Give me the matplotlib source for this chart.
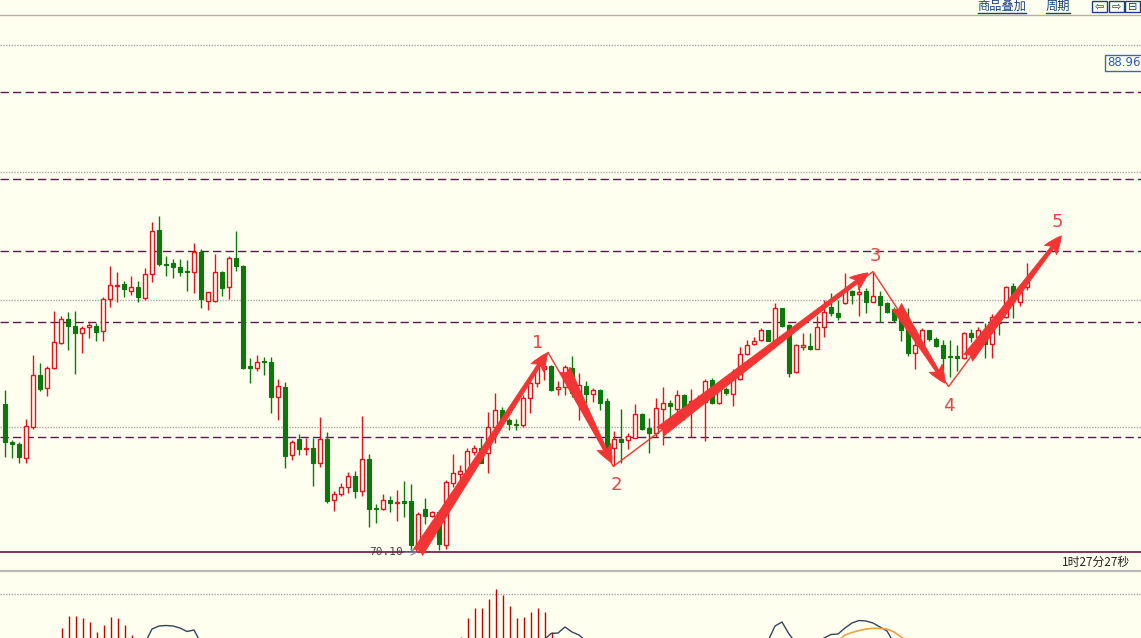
import matplotlib
matplotlib.use("Agg")
import matplotlib.pyplot as plt
from matplotlib.lines import Line2D
from matplotlib.patches import Rectangle

# ---------------- data ----------------
opens = [75.92, 74.43, 74.34, 73.79, 75.03, 77.05, 76.54, 77.32, 78.30, 79.26,
         78.99, 78.72, 78.95, 78.99, 78.77, 80.03, 80.56, 80.63, 80.36, 80.50,
         80.09, 81.01, 82.74, 81.42, 81.46, 81.29, 81.14, 81.09, 81.89, 79.97,
         79.95, 81.10, 80.50, 81.63, 81.31, 77.39, 77.32, 77.62, 77.56, 76.21,
         76.59, 73.91, 74.55, 74.16, 74.21, 73.60, 74.55, 72.16, 72.38, 72.66,
         73.10, 72.52, 73.77, 71.83, 71.81, 72.16, 72.04, 72.11, 72.12, 70.17,
         71.79, 71.51, 71.68, 70.37, 72.81, 73.17, 73.30, 74.04, 74.19, 73.99,
         75.03, 75.69, 75.30, 75.14, 75.08, 76.15, 76.73, 77.28, 77.39, 76.52,
         76.58, 77.32, 76.21, 76.63, 76.32, 76.47, 76.05, 74.19, 74.55, 74.51,
         74.60, 75.52, 74.96, 74.77, 75.74, 75.97, 75.74, 76.28, 75.73, 76.01,
         76.01, 76.86, 75.97, 76.50, 76.32, 76.89, 77.87, 78.26, 78.43, 78.80,
         78.40, 79.67, 79.02, 77.19, 78.15, 78.20, 78.09, 78.93, 79.74, 79.50,
         79.87, 80.33, 80.24, 80.33, 79.93, 80.16, 79.87, 79.61, 79.28, 78.85,
         77.93, 78.20, 78.80, 78.46, 78.24, 77.80, 77.78, 77.71, 78.69, 78.56,
         78.82, 78.28, 79.15, 79.32, 80.55, 79.93, 80.50]
highs = [76.47, 74.51, 74.41, 75.32, 77.84, 77.52, 77.42, 79.57, 79.37, 79.52,
         79.57, 78.98, 79.11, 79.11, 80.11, 81.33, 81.11, 80.76, 80.94, 80.74,
         81.24, 83.06, 83.29, 81.72, 81.60, 81.60, 81.57, 82.22, 81.99, 80.32,
         81.80, 81.12, 81.72, 82.70, 81.37, 77.71, 77.84, 77.75, 77.75, 76.89,
         76.77, 74.51, 74.74, 74.58, 74.60, 75.39, 74.83, 72.51, 72.81, 73.25,
         73.27, 75.43, 73.96, 72.00, 72.40, 72.29, 72.55, 72.90, 72.79, 71.70,
         72.25, 71.74, 71.70, 72.92, 73.95, 73.53, 74.19, 74.30, 74.60, 75.62,
         76.34, 75.79, 75.36, 75.32, 76.28, 76.99, 77.58, 77.52, 77.45, 76.80,
         77.45, 77.78, 77.13, 76.80, 76.54, 76.50, 76.15, 74.84, 75.73, 74.77,
         75.92, 75.57, 75.36, 76.15, 76.60, 76.08, 76.47, 76.30, 76.50, 76.28,
         76.89, 76.93, 76.50, 76.60, 77.28, 78.15, 78.43, 78.56, 78.89, 78.82,
         79.87, 79.69, 79.04, 78.28, 78.69, 78.69, 79.35, 80.00, 80.26, 80.00,
         81.05, 80.39, 80.46, 80.46, 81.11, 80.33, 79.93, 79.74, 79.67, 79.67,
         78.89, 78.89, 78.82, 78.56, 78.43, 78.43, 78.24, 78.76, 78.85, 78.93,
         79.09, 79.45, 79.29, 80.55, 80.65, 80.52, 81.44]
lows = [73.85, 73.81, 73.60, 73.60, 74.93, 76.44, 76.25, 77.30, 78.28, 78.04,
        77.09, 77.91, 78.50, 78.40, 78.37, 79.74, 79.93, 80.11, 80.20, 79.91,
        80.00, 80.72, 81.31, 80.94, 80.87, 80.94, 80.36, 80.26, 79.67, 79.61,
        79.93, 80.17, 80.03, 81.14, 77.28, 76.76, 77.23, 77.05, 75.58, 75.27,
        73.40, 73.73, 73.92, 73.92, 72.71, 73.43, 72.03, 71.74, 72.29, 72.42,
        72.23, 72.29, 71.11, 71.25, 71.77, 71.69, 71.31, 71.47, 70.20, 70.10,
        71.22, 71.47, 70.20, 70.23, 72.68, 72.84, 73.21, 73.92, 73.60, 73.21,
        74.38, 75.17, 74.90, 74.90, 75.03, 75.56, 76.60, 76.86, 76.43, 76.28,
        76.28, 76.21, 75.30, 75.95, 76.01, 75.69, 74.12, 73.47, 73.60, 74.15,
        74.58, 74.90, 74.01, 74.64, 74.32, 75.30, 75.43, 75.30, 74.62, 75.77,
        74.47, 75.92, 75.92, 76.28, 75.82, 76.87, 77.85, 78.24, 78.37, 78.37,
        78.38, 78.93, 76.99, 77.15, 78.04, 78.04, 78.07, 78.54, 79.37, 79.22,
        79.85, 79.84, 79.35, 79.48, 79.91, 79.15, 79.48, 79.15, 78.37, 77.78,
        77.28, 78.17, 78.40, 78.17, 77.26, 76.99, 77.23, 77.68, 78.33, 78.28,
        77.71, 77.71, 78.63, 79.28, 79.28, 79.76, 80.39]
closes = [74.41, 74.34, 73.82, 75.07, 77.05, 76.52, 77.32, 78.34, 79.26, 78.99,
          78.72, 78.89, 79.02, 78.76, 80.03, 80.58, 80.60, 80.44, 80.50, 80.11,
          81.02, 82.70, 81.40, 81.37, 81.27, 81.10, 81.09, 81.87, 80.03, 80.30,
          81.10, 80.48, 81.63, 81.34, 77.32, 77.33, 77.58, 77.57, 76.21, 76.64,
          73.86, 74.43, 74.15, 74.20, 73.60, 74.55, 72.13, 72.38, 72.67, 73.10,
          72.52, 73.76, 71.81, 71.78, 72.16, 72.03, 72.08, 72.05, 70.37, 71.61,
          71.51, 71.70, 70.42, 72.84, 73.21, 73.30, 74.08, 74.19, 73.62, 75.03,
          75.69, 75.30, 75.13, 75.09, 76.15, 76.73, 77.36, 77.41, 76.47, 76.60,
          77.36, 76.34, 76.67, 76.32, 76.47, 75.97, 74.19, 74.55, 74.42, 74.67,
          75.52, 74.93, 74.77, 75.75, 75.97, 75.82, 76.26, 75.73, 76.04, 76.08,
          76.82, 75.97, 76.47, 76.34, 76.89, 77.87, 78.22, 78.39, 78.80, 78.40,
          79.67, 78.98, 77.15, 78.24, 78.22, 78.09, 78.93, 79.54, 79.48, 79.32,
          80.39, 80.20, 80.29, 79.93, 80.16, 79.80, 79.54, 79.22, 78.82, 77.93,
          78.22, 78.82, 78.46, 78.20, 77.71, 77.75, 77.73, 78.69, 78.54, 78.82,
          78.28, 79.32, 79.09, 80.50, 80.13, 80.50, 80.72]

grid_prices = [75, 80, 85, 90]
level_lines = [88.15, 84.74, 81.92, 79.13, 74.62]
low_price = 70.10
low_index = 59
low_label = "70.10"
last_price_label = "88.96"
countdown_label = "1时27分27秒"
header_labels = ["商品叠加", "周期"]

# wave annotation (bar index, price)
wave_labels = ["1", "2", "3", "4", "5"]
label_x = [76.1, 87.3, 124.4, 134.9, 150.3]
label_y = [78.31, 72.75, 81.72, 75.84, 83.06]
thin_x = [77.6, 86.9, 124.0, 134.8, 138.7]
thin_y = [77.93, 73.47, 81.11, 76.60, 78.04]
arrow_start_x = [59.0, 80.0, 93.6, 127.4, 137.6]
arrow_start_y = [70.10, 77.26, 74.83, 79.74, 77.73]
arrow_end_x = [77.43, 86.7, 123.3, 134.3, 150.9]
arrow_end_y = [77.92, 73.61, 81.06, 76.73, 82.51]

# MACD pane
hist_idx = [8, 9, 10, 11, 12, 13, 14, 15, 16, 17, 18,
            65, 66, 67, 68, 69, 70, 71, 72, 73, 74, 75, 76, 77, 78]
hist_val = [0.10, 0.22, 0.22, 0.20, 0.16, 0.06, 0.13, 0.21, 0.20, 0.13, 0.03,
            0.01, 0.20, 0.30, 0.30, 0.39, 0.49, 0.43, 0.32, 0.20, 0.21, 0.26,
            0.30, 0.26, 0.06]
dif_a_idx = [20, 21, 22, 23, 24, 25, 26, 27, 28]
dif_a_val = [-0.05, 0.09, 0.12, 0.125, 0.12, 0.10, 0.065, 0.08, -0.05]
dif_b_idx = [77, 78, 79, 80, 81, 82, 83]
dif_b_val = [-0.02, 0.045, 0.05, 0.11, 0.06, 0.03, -0.03]
dif_c_idx = [109, 110, 111, 112, 113]
dif_c_val = [-0.03, 0.12, 0.16, 0.04, -0.05]
dif_d_idx = [117, 118, 119, 120, 121, 122, 123, 124, 125, 126, 127]
dif_d_val = [0.0, 0.035, 0.04, 0.10, 0.15, 0.175, 0.17, 0.15, 0.11, 0.07, -0.05]
dea_idx = [119, 120, 121, 122, 123, 124, 125, 126, 127, 128, 129]
dea_val = [-0.03, 0.03, 0.055, 0.075, 0.09, 0.097, 0.095, 0.09, 0.06, 0.01, -0.03]
macd_grid = 0.44

# ---------------- style ----------------
W, H, DPI = 1141, 638, 100
BG = "#fffff0"
UP = "#e3121c"
DOWN = "#0b780b"
LEVEL = "#5a1a50"
GRID = "#a8a8a8"
ARROW = "#f23434"
LABEL = "#f0404a"
LINKC = "#1d3f80"

def fx(px):
    return px / W

def fy(py):
    return 1 - py / H

fig = plt.figure(figsize=(W / DPI, H / DPI), dpi=DPI, facecolor=BG)

x_left = -5 / 7
x_right = (W - 5) / 7
ax = fig.add_axes([0, fy(571), 1, fy(15) - fy(571)], facecolor=BG)
ax.set_xlim(x_left, x_right)
ax.set_ylim(91.76 - 571 / 25.5, 91.76 - 15 / 25.5)
ax.axis("off")

for p in grid_prices:
    ax.axhline(p, color=GRID, lw=1, ls=(0, (1, 1)), zorder=1)
for p in level_lines:
    ax.axhline(p, color=LEVEL, lw=1, ls=(0, (6, 3)), zorder=1)
ax.axhline(low_price, color="#6e1040", lw=1.2, zorder=1)

# candles
n = len(opens)
for i in range(n):
    o, h, l, c = opens[i], highs[i], lows[i], closes[i]
    up = c >= o
    col = UP if up else DOWN
    ax.vlines(i, l, h, color=col, lw=1, zorder=2)
    bottom = min(o, c)
    height = max(abs(c - o), 0.01)
    if up:
        ax.bar(i, height, bottom=bottom, width=0.62, facecolor=BG,
               edgecolor=col, linewidth=1, zorder=3)
    else:
        ax.bar(i, height, bottom=bottom, width=0.64, facecolor=col,
               edgecolor=col, linewidth=0.8, zorder=3)

# thin zig-zag line
ax.plot(thin_x, thin_y, color=ARROW, lw=1, zorder=4)
ax.plot([arrow_start_x[0], thin_x[0]], [arrow_start_y[0], thin_y[0]],
        color=ARROW, lw=1, zorder=4)

# thick arrows
for sx, sy, ex, ey in zip(arrow_start_x, arrow_start_y, arrow_end_x, arrow_end_y):
    ax.annotate("", xy=(ex, ey), xytext=(sx, sy),
                arrowprops=dict(arrowstyle="fancy,head_length=0.8,head_width=0.68,tail_width=0.5",
                                color=ARROW, shrinkA=0, shrinkB=0,
                                mutation_scale=16, lw=0.6),
                zorder=5)

for t, x, y in zip(wave_labels, label_x, label_y):
    ax.text(x, y, t, color=LABEL, fontsize=13, ha="center", va="center",
            family="DejaVu Sans", zorder=6)

# low label
ax.text(low_index - 2.1, low_price, low_label, fontsize=8, color="#404040",
        ha="right", va="center", family="DejaVu Sans Mono", zorder=6)
ax.annotate("", xy=(low_index - 0.05, low_price), xytext=(low_index - 2.0, low_price),
            arrowprops=dict(arrowstyle="->", color="#8080a0", lw=0.8,
                            shrinkA=0, shrinkB=0), zorder=6)

# MACD pane
ax2 = fig.add_axes([0, 0, 1, fy(571)], facecolor=BG)
ax2.set_xlim(x_left, x_right)
ax2.set_ylim(0, (638 - 571) / 100)
ax2.axis("off")
ax2.axhline(macd_grid, color=GRID, lw=1, ls=(0, (1, 1)))
ax2.vlines([i + 0.15 for i in hist_idx], 0, hist_val, color="#c40000", lw=1)
for xs, vs in [(dif_a_idx, dif_a_val), (dif_b_idx, dif_b_val),
               (dif_c_idx, dif_c_val), (dif_d_idx, dif_d_val)]:
    ax2.plot(xs, vs, color="#34445e", lw=1)
ax2.plot(dea_idx, dea_val, color="#f0a040", lw=1.2)

# frame lines
fig.add_artist(Line2D([0, 1], [fy(15), fy(15)], color="#b8b0a4", lw=1))
fig.add_artist(Line2D([0, 1], [fy(571), fy(571)], color="#b8b8b4", lw=1.6))

# header
fig.text(fx(1002), fy(6), header_labels[0], fontsize=8.8, color=LINKC,
         ha="center", va="center", family=["Noto Sans CJK SC", "DejaVu Sans"])
fig.text(fx(1058), fy(6), header_labels[1], fontsize=8.8, color=LINKC,
         ha="center", va="center", family=["Noto Sans CJK SC", "DejaVu Sans"])
fig.add_artist(Line2D([fx(978), fx(1026)], [fy(12.5), fy(12.5)], color=LINKC, lw=1))
fig.add_artist(Line2D([fx(1046), fx(1070)], [fy(12.5), fy(12.5)], color=LINKC, lw=1))
for k, g in enumerate(["\u21e6", "\u21e8", "\u229f"]):
    x0 = 1092 + 16.5 * k
    fig.add_artist(Rectangle((fx(x0), fy(12)), fx(15), fy(1) - fy(12),
                             fill=False, edgecolor=LINKC, lw=1))
    fig.text(fx(x0 + 7.5), fy(6.5), g, fontsize=8, color=LINKC,
             ha="center", va="center", family="DejaVu Sans")

# last price tag
fig.text(fx(1124), fy(63), last_price_label, fontsize=8.5, color="#2a5ac8",
         ha="center", va="center", family="DejaVu Sans",
         bbox=dict(boxstyle="square,pad=0.15", fc=BG, ec="#3a64c8", lw=1))

# countdown
fig.text(fx(1130), fy(562.5), countdown_label, fontsize=8.5, color="#202020",
         ha="right", va="center", family=["Noto Sans CJK SC", "DejaVu Sans"])

fig.savefig("out.png", dpi=DPI, facecolor=BG)
